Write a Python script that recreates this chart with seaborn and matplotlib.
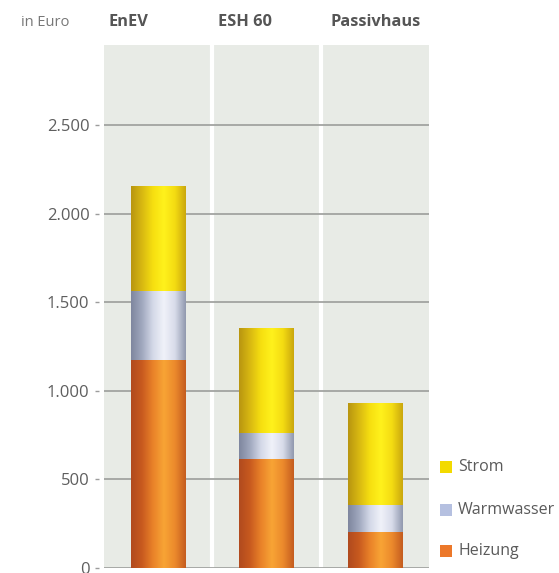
import numpy as np
import pandas as pd
import matplotlib
matplotlib.use("Agg")
import matplotlib.pyplot as plt
from matplotlib.patches import Rectangle
from matplotlib.colors import LinearSegmentedColormap
import seaborn as sns

# Annual energy costs in Euro per building standard
categories = ["EnEV", "ESH 60", "Passivhaus"]
heizung = [1170, 610, 200]
warmwasser = [390, 150, 150]
strom = [590, 590, 580]

y_ticks = [0, 500, 1000, 1500, 2000, 2500]
y_tick_labels = ["0", "500", "1.000", "1.500", "2.000", "2.500"]
series_names = ["Strom", "Warmwasser", "Heizung"]

W, H = 559, 573
sns.set_theme(style="white")
plt.rcParams["font.family"] = ["Open Sans", "DejaVu Sans"]

flat_colors = {"Strom": "#f3da00", "Warmwasser": "#b5c0e0", "Heizung": "#ec782a"}
# cylinder-like shading across each bar, left to right
shades = {
    "Strom": ["#b89510", "#d8b812", "#f6df10", "#fff21c", "#f4dc12", "#caa70e"],
    "Warmwasser": ["#7e869e", "#a0a8be", "#d4d9e8", "#f0f2f9", "#d8dcea", "#9098ae"],
    "Heizung": ["#b04a1e", "#c85a1f", "#e98229", "#f8a435", "#ec8a2c", "#c45c20"],
}

df = pd.DataFrame({"Kategorie": categories, "Heizung": heizung,
                   "Warmwasser": warmwasser, "Strom": strom})
df["top_heizung"] = df["Heizung"]
df["top_warmwasser"] = df["Heizung"] + df["Warmwasser"]
df["top_strom"] = df["top_warmwasser"] + df["Strom"]

fig = plt.figure(figsize=(W / 100, H / 100), dpi=100)
fig.patch.set_facecolor("white")

ax_left, ax_right = 104, 429
ax_top, ax_bottom = 45, 568
ax = fig.add_axes([ax_left / W, (H - ax_bottom) / H,
                   (ax_right - ax_left) / W, (ax_bottom - ax_top) / H])
ax.set_facecolor("#e8ebe6")

y_max = 2951

# stacked bars drawn back to front from cumulative totals
layer_cols = [("top_strom", "Strom"), ("top_warmwasser", "Warmwasser"), ("top_heizung", "Heizung")]
for k, (col, name) in enumerate(layer_cols):
    n_before = len(ax.patches)
    sns.barplot(data=df, x="Kategorie", y=col, color=flat_colors[name], width=0.5,
                saturation=1, errorbar=None, ax=ax, zorder=3 + k * 0.1, linewidth=0)
    cmap = LinearSegmentedColormap.from_list(name, shades[name])
    grad = cmap(np.linspace(0, 1, 256))[None, :, :]
    for p in ax.patches[n_before:]:
        x0, y0, w, h = p.get_x(), p.get_y(), p.get_width(), p.get_height()
        ax.imshow(grad, extent=[x0, x0 + w, y0, y0 + h], aspect="auto",
                  interpolation="bicubic", zorder=3.05 + k * 0.1)

ax.set_xlim(-0.5, 2.5)
ax.set_ylim(0, y_max)

# column separators and grid lines
for xs in [0.5, 1.5]:
    ax.axvline(xs, color="white", lw=3, zorder=1)
for yv in y_ticks:
    ax.axhline(yv, color="#a2a4a1", lw=1.3, zorder=2)

for s in ax.spines.values():
    s.set_visible(False)
ax.spines["left"].set_position(("outward", 3.5))
ax.set_yticks(y_ticks)
ax.set_yticklabels(y_tick_labels)
ax.tick_params(axis="y", left=True, length=3, width=1, color="#9c9c9c", pad=4,
               labelsize=12, labelcolor="#5e5e5e")
ax.set_xticks([])
ax.set_xlabel("")
ax.set_ylabel("")

# column headers
fig.text(21 / W, 1 - 22 / H, "in Euro", fontsize=10.5, color="#777777", va="center", ha="left")
for label, xpx in zip(categories, [109, 218, 330]):
    fig.text(xpx / W, 1 - 22 / H, label, fontsize=11.8, fontweight="bold",
             color="#555555", va="center", ha="left")

# legend
legend_y = [467, 510, 551]
for name, ypx in zip(series_names, legend_y):
    fig.add_artist(Rectangle((440 / W, 1 - (ypx + 6) / H), 12 / W, 12 / H,
                             transform=fig.transFigure, facecolor=flat_colors[name],
                             edgecolor="none"))
    fig.text(458 / W, 1 - ypx / H, name, fontsize=11.5, color="#5a5a5a",
             va="center", ha="left")

fig.savefig("out.png", dpi=100, facecolor="white")
